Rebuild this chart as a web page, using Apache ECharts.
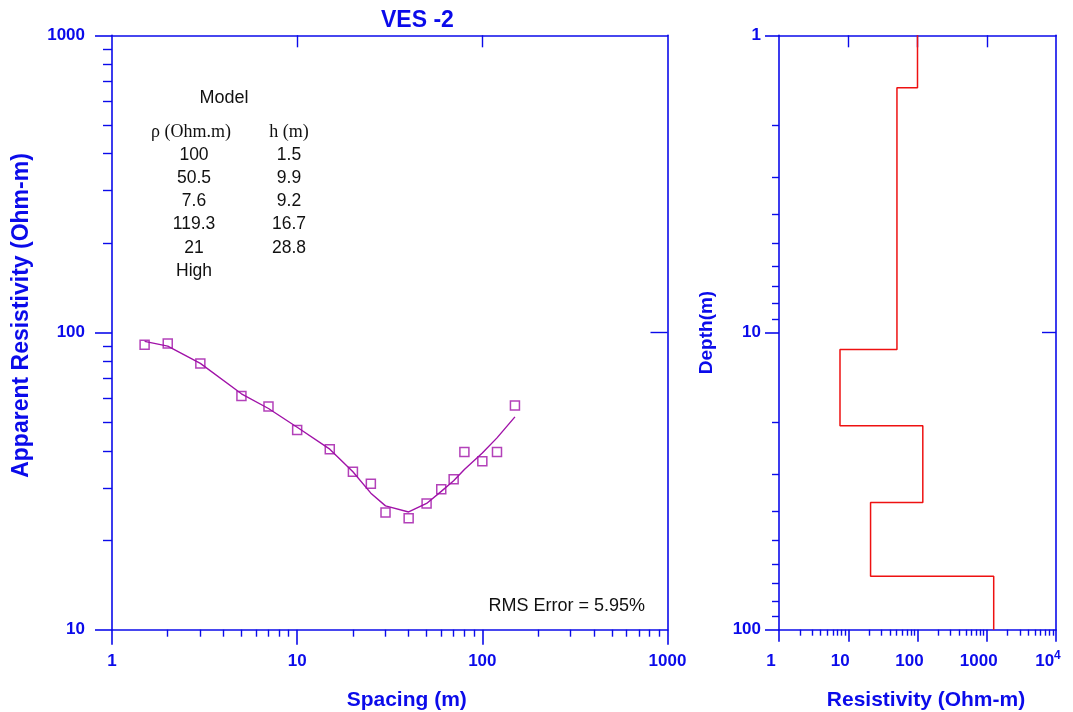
<!DOCTYPE html>
<html>
<head>
<meta charset="utf-8">
<script src="https://cdn.jsdelivr.net/npm/echarts@6/dist/echarts.min.js"></script>
<style>
  html, body { margin: 0; padding: 0; background: #fff; }
  #chart { width: 1073px; height: 712px; }
</style>
</head>
<body>
<div id="chart"></div>
<script>
// sounding data (AB/2 spacing vs apparent resistivity)
var spacing  = [1.5, 2, 3, 5, 7, 10, 15, 20, 25, 30, 40, 50, 60, 70, 80, 100, 120, 150];
var observed = [90.9, 91.9, 78.7, 61.2, 56.4, 47.0, 40.5, 34.0, 31.0, 24.8, 23.7, 26.6, 29.7, 32.1, 39.6, 36.9, 39.6, 56.8];
var modelRes = [93.4, 90, 78.7, 62.2, 55.5, 48, 40.5, 34, 28.8, 26.1, 24.9, 26.6, 29.2, 31.7, 34.6, 39.3, 44.2, 52];

// layered model
var layerRho   = [100, 50.5, 7.6, 119.3, 21, 1260];
var layerRhoTx = ['100', '50.5', '7.6', '119.3', '21', 'High'];
var layerH     = [1.5, 9.9, 9.2, 16.7, 28.8];
var rmsError   = 5.95;

var minorTicks1000 = [2,3,4,5,6,7,8,9,20,30,40,50,60,70,80,90,200,300,400,500,600,700,800,900];
var minorTicks10k  = minorTicks1000.concat([2000,3000,4000,5000,6000,7000,8000,9000]);
var minorDepth     = [2,3,4,5,6,7,8,9,20,30,40,50,60,70,80,90];

var blue = '#0b0bea';
var purple = '#a012a8';
var red = '#ee1111';
var font = '"Liberation Sans", Arial, sans-serif';
var serif = '"Liberation Serif", "DejaVu Serif", serif';

// step profile of the model: depth from 1 (axis top) to 100 (axis bottom)
var profile = [];
var depthTop = 0;
for (var i = 0; i < layerRho.length; i++) {
	var depthBot = i < layerH.length ? depthTop + layerH[i] : 100;
	profile.push([layerRho[i], Math.max(depthTop, 1)]);
	profile.push([layerRho[i], depthBot]);
	depthTop = depthBot;
}

function labelRich(shift) {
	return {
		b: { color: blue, fontFamily: font, fontWeight: 'bold', fontSize: 17, padding: [6, shift, 0, 0] },
		c: { color: blue, fontFamily: font, fontWeight: 'bold', fontSize: 17, padding: [6, 0, 0, 0] },
		sup: { color: blue, fontFamily: font, fontWeight: 'bold', fontSize: 12, padding: [0, shift, 6, 0] }
	};
}
function xLabel(v) {
	return v >= 10000 ? '{c|10}{sup|4}' : '{b|' + v + '}';
}

function mainAxis(grid, pos, min, max, tickLen, margin, extra) {
	var a = {
		type: 'log', logBase: 10, gridIndex: grid, position: pos, min: min, max: max,
		axisLine: { show: true, lineStyle: { color: blue, width: 1.6 } },
		axisTick: { show: true, inside: false, length: tickLen, lineStyle: { color: blue, width: 1.6 } },
		axisLabel: {
			color: blue, fontFamily: font, fontWeight: 'bold', fontSize: 17, margin: margin,
			showMinLabel: true, showMaxLabel: true, formatter: function (v) { return String(v); }
		},
		splitLine: { show: false }, minorTick: { show: false }
	};
	for (var k in extra) a[k] = extra[k];
	return a;
}
function tickAxis(grid, pos, min, max, values, len, inside, inverse) {
	return {
		type: 'log', logBase: 10, gridIndex: grid, position: pos, min: min, max: max, inverse: !!inverse,
		axisLine: { show: pos === 'top' || pos === 'right', lineStyle: { color: blue, width: 1.6 } },
		axisTick: { show: true, inside: inside, length: len, customValues: values, lineStyle: { color: blue, width: 1.4 } },
		axisLabel: { show: false }, splitLine: { show: false }
	};
}

function nameStyle(size, padding) {
	return { color: blue, fontFamily: font, fontWeight: 'bold', fontSize: size, padding: padding };
}

var myChart = echarts.init(document.getElementById('chart'));

// model table text
var tableItems = [
	{ type: 'text', x: 224, y: 98, style: { text: 'Model', font: '18px ' + font, fill: '#111', align: 'center', verticalAlign: 'middle' } },
	{ type: 'text', x: 191, y: 132, style: { text: 'ρ (Ohm.m)', font: '18px ' + serif, fill: '#111', align: 'center', verticalAlign: 'middle' } },
	{ type: 'text', x: 289, y: 132, style: { text: 'h (m)', font: '18px ' + serif, fill: '#111', align: 'center', verticalAlign: 'middle' } }
];
for (var r = 0; r < layerRhoTx.length; r++) {
	tableItems.push({ type: 'text', x: 194, y: 155 + r * 23.2, style: { text: layerRhoTx[r], font: '17.5px ' + font, fill: '#111', align: 'center', verticalAlign: 'middle' } });
	if (r < layerH.length) {
		tableItems.push({ type: 'text', x: 289, y: 155 + r * 23.2, style: { text: layerH[r].toFixed(1), font: '17.5px ' + font, fill: '#111', align: 'center', verticalAlign: 'middle' } });
	}
}
tableItems.push({ type: 'text', x: 645, y: 606, style: { text: 'RMS Error = ' + rmsError.toFixed(2) + '%', font: '18px ' + font, fill: '#111', align: 'right', verticalAlign: 'middle' } });

myChart.setOption({
	animation: false,
	title: {
		text: 'VES -2', left: 376, top: 4,
		textStyle: { color: blue, fontFamily: font, fontWeight: 'bold', fontSize: 23 }
	},
	grid: [
		{ left: 112, right: 405.5, top: 35.3, bottom: 82.3, outerBoundsMode: 'none', containLabel: false },
		{ left: 779, right: 17, top: 35.3, bottom: 82.3, outerBoundsMode: 'none', containLabel: false }
	],
	xAxis: [
		mainAxis(0, 'bottom', 1, 1000, 15, 17, {
			name: 'Spacing (m)', nameLocation: 'middle', nameGap: 60, nameTextStyle: nameStyle(21, [0, 0, 0, 34])
		}),
		tickAxis(0, 'bottom', 1, 1000, minorTicks1000, 7, false),
		tickAxis(0, 'top', 1, 1000, [10, 100], 12, true),
		mainAxis(1, 'bottom', 1, 10000, 12, 17, {
			name: 'Resistivity (Ohm-m)', nameLocation: 'middle', nameGap: 60, nameTextStyle: nameStyle(21, [0, 0, 0, 17])
		}),
		tickAxis(1, 'bottom', 1, 10000, minorTicks10k, 6, false),
		tickAxis(1, 'top', 1, 10000, [10, 100, 1000], 12, true)
	],
	yAxis: [
		mainAxis(0, 'left', 10, 1000, 17, 27, {
			name: 'Apparent Resistivity (Ohm-m)', nameLocation: 'middle', nameGap: 79, nameTextStyle: nameStyle(23, [0, 0, 0, 34])
		}),
		tickAxis(0, 'left', 10, 1000, minorTicks1000, 9, false),
		tickAxis(0, 'right', 10, 1000, [100], 17, true),
		mainAxis(1, 'left', 1, 100, 14, 18, {
			inverse: true, name: 'Depth(m)', nameLocation: 'middle', nameGap: 63, nameTextStyle: nameStyle(19, 0)
		}),
		tickAxis(1, 'left', 1, 100, minorDepth, 7, false, true),
		tickAxis(1, 'right', 1, 100, [10], 14, true, true)
	],
	graphic: tableItems,
	series: [
		{
			name: 'Model', type: 'line', xAxisIndex: 0, yAxisIndex: 0,
			data: spacing.map(function (s, i) { return [s, modelRes[i]]; }),
			showSymbol: false, lineStyle: { color: purple, width: 1.4 }, z: 3
		},
		{
			name: 'Observed', type: 'scatter', xAxisIndex: 0, yAxisIndex: 0,
			data: spacing.map(function (s, i) { return [s, observed[i]]; }),
			symbol: 'rect', symbolSize: 9,
			itemStyle: { color: 'rgba(255,255,255,0)', borderColor: purple, borderWidth: 1.5 }, z: 4
		},
		{
			name: 'Layers', type: 'line', xAxisIndex: 3, yAxisIndex: 3,
			data: profile, showSymbol: false,
			lineStyle: { color: red, width: 1.5 }
		}
	]
});

// bottom tick labels with rich text (superscript for 10^4)
myChart.setOption({
	xAxis: [
		{ axisLabel: { formatter: xLabel, rich: labelRich(0) } },
		{}, {},
		{ axisLabel: { formatter: xLabel, rich: labelRich(16) } }
	]
});
</script>
</body>
</html>
